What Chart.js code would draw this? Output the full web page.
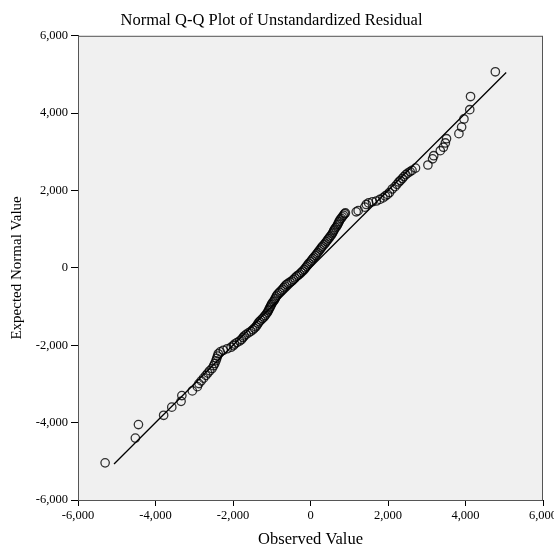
<!DOCTYPE html>
<html lang="en">
<head>
    <meta charset="UTF-8">
    <title>Normal Q-Q Plot of Unstandardized Residual</title>
    <script src="https://cdn.jsdelivr.net/npm/chart.js"></script>
    <style>
        html, body { margin: 0; padding: 0; background: #fff; overflow: hidden; }
        #wrap { width: 570px; height: 552px; }
    </style>
</head>
<body>
    <div id="wrap"><canvas id="qqChart"></canvas></div>

    <script>
        // observed residual vs expected normal value
        const observed = [
            -5300, -4520, -4440, -3790, -3580, -3340, -3320, -3050, -2920, -2880,
            -2820, -2760, -2700, -2650, -2600, -2540, -2500, -2470, -2440, -2420,
            -2400, -2380, -2330, -2250, -2150, -2050, -1990, -1960, -1900, -1830,
            -1780, -1740, -1710, -1660, -1600, -1540, -1490, -1450, -1410, -1380,
            -1350, -1320, -1280, -1240, -1200, -1170, -1140, -1110, -1090, -1070,
            -1050, -1030, -1010, -990, -960, -930, -910, -890, -870, -840,
            -800, -760, -720, -690, -660, -620, -580, -530, -480, -440,
            -400, -360, -320, -280, -240, -200, -160, -130, -100, -70,
            -40, 0, 30, 60, 90, 130, 160, 190, 220, 250,
            280, 310, 350, 380, 410, 440, 470, 500, 530, 560,
            580, 600, 620, 650, 680, 700, 720, 740, 760, 790,
            820, 850, 880, 900, 1180, 1230, 1400, 1440, 1500, 1600,
            1700, 1790, 1870, 1930, 1990, 2040, 2110, 2180, 2230, 2280,
            2320, 2370, 2410, 2460, 2510, 2570, 2620, 2710, 3030, 3150,
            3180, 3350, 3430, 3480, 3510, 3830, 3900, 3960, 4110, 4130,
            4770
        ];
        const expected = [
            -5040, -4400, -4050, -3810, -3600, -3450, -3300, -3180, -3070, -2990,
            -2920, -2850, -2780, -2720, -2660, -2600, -2530, -2470, -2400, -2340,
            -2280, -2220, -2170, -2130, -2090, -2050, -2010, -1970, -1930, -1890,
            -1850, -1800, -1760, -1720, -1680, -1640, -1600, -1560, -1520, -1480,
            -1430, -1390, -1350, -1310, -1270, -1230, -1190, -1150, -1110, -1070,
            -1030, -990, -950, -910, -870, -830, -790, -750, -710, -670,
            -630, -590, -550, -510, -470, -430, -400, -370, -340, -300,
            -260, -220, -190, -160, -120, -80, -40, 0, 40, 80,
            120, 160, 200, 240, 280, 320, 360, 400, 440, 480,
            520, 560, 600, 640, 680, 720, 760, 800, 840, 880,
            920, 960, 1000, 1040, 1080, 1120, 1160, 1200, 1240, 1280,
            1320, 1360, 1400, 1420, 1450, 1480, 1570, 1640, 1680, 1710,
            1730, 1770, 1810, 1860, 1900, 1950, 2040, 2100, 2160, 2220,
            2260, 2310, 2360, 2410, 2450, 2490, 2520, 2580, 2660, 2820,
            2900, 3030, 3120, 3230, 3340, 3470, 3640, 3850, 4090, 4430,
            5070
        ];
        // reference line end points
        const lineX = [-5070, 5050];
        const lineY = [-5070, 5050];
        const tickValues = [-6000, -4000, -2000, 0, 2000, 4000, 6000];

        const serif = "'Liberation Serif', 'Times New Roman', serif";

        const plotBackground = {
            id: 'plotBackground',
            beforeDatasetsDraw(chart) {
                const { ctx, chartArea: a } = chart;
                ctx.save();
                ctx.fillStyle = '#f0f0f0';
                ctx.fillRect(a.left, a.top, a.right - a.left, a.bottom - a.top);
                ctx.strokeStyle = '#555';
                ctx.lineWidth = 1;
                ctx.strokeRect(a.left + 0.5, a.top + 0.5, a.right - a.left - 1, a.bottom - a.top);
                ctx.restore();
            }
        };

        function fixedTicks(scale) {
            scale.ticks = tickValues.map(v => ({ value: v }));
        }

        document.addEventListener("DOMContentLoaded", () => {
            const ctx = document.getElementById("qqChart").getContext("2d");

            new Chart(ctx, {
                type: "scatter",
                data: {
                    datasets: [
                        {
                            label: "Observed",
                            data: observed.map((x, i) => ({ x: x, y: expected[i] })),
                            pointRadius: 4.2,
                            pointHoverRadius: 4.2,
                            borderWidth: 1.3,
                            borderColor: "rgba(0,0,0,0.8)",
                            backgroundColor: "rgba(0,0,0,0)",
                            order: 1
                        },
                        {
                            label: "Reference",
                            type: "line",
                            data: lineX.map((x, i) => ({ x: x, y: lineY[i] })),
                            showLine: true,
                            pointRadius: 0,
                            borderColor: "#000",
                            borderWidth: 1.3,
                            fill: false,
                            order: 2
                        }
                    ]
                },
                options: {
                    responsive: true,
                    maintainAspectRatio: false,
                    animation: false,
                    layout: { padding: { left: 0, right: 27, top: 0, bottom: 0 } },
                    plugins: {
                        legend: { display: false },
                        tooltip: { enabled: false },
                        title: {
                            display: true,
                            text: "Normal Q-Q Plot of Unstandardized Residual",
                            color: "#000",
                            font: { family: serif, size: 16.5, weight: "normal" },
                            padding: { top: 11, bottom: 5 }
                        }
                    },
                    scales: {
                        x: {
                            type: "linear",
                            min: -6000,
                            max: 6000,
                            afterBuildTicks: fixedTicks,
                            afterFit(scale) { scale.height = 52; },
                            grid: { display: true, drawOnChartArea: false, drawTicks: true, tickLength: 6, color: "#000" },
                            border: { display: true, color: "#000", width: 1 },
                            ticks: {
                                color: "#000",
                                padding: 2,
                                maxRotation: 0,
                                font: { family: serif, size: 12.5 },
                                callback: v => v.toLocaleString("en-US")
                            },
                            title: {
                                display: true,
                                text: "Observed Value",
                                color: "#000",
                                font: { family: serif, size: 16.5 },
                                padding: { top: 4, bottom: 2 }
                            }
                        },
                        y: {
                            type: "linear",
                            min: -6000,
                            max: 6000,
                            afterBuildTicks: fixedTicks,
                            afterFit(scale) { scale.width = 78; },
                            grid: { display: true, drawOnChartArea: false, drawTicks: true, tickLength: 7, color: "#000" },
                            border: { display: true, color: "#000", width: 1 },
                            ticks: {
                                color: "#000",
                                padding: 3,
                                font: { family: serif, size: 12.5 },
                                callback: v => v.toLocaleString("en-US")
                            },
                            title: {
                                display: true,
                                text: "Expected Normal Value",
                                color: "#000",
                                font: { family: serif, size: 15 },
                                padding: { top: 8, bottom: 4 }
                            }
                        }
                    }
                },
                plugins: [plotBackground]
            });
        });
    </script>
</body>
</html>
